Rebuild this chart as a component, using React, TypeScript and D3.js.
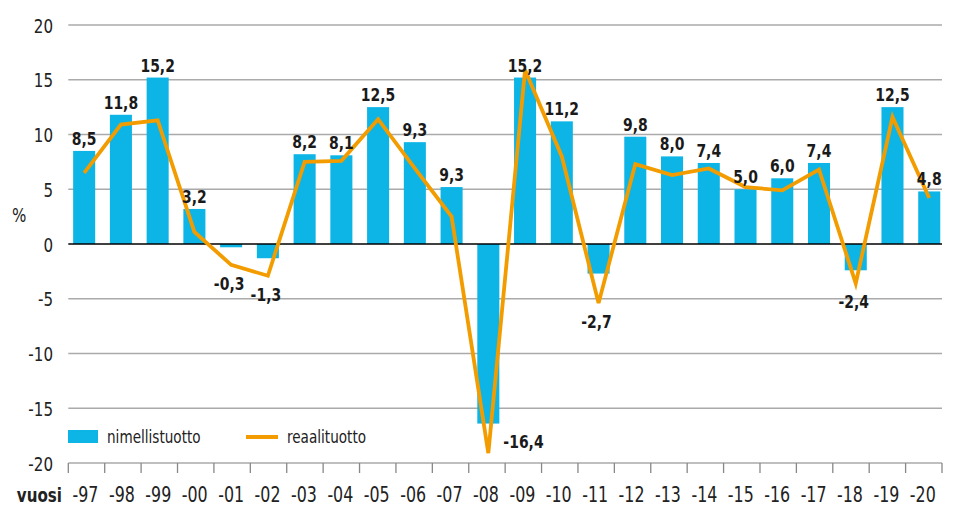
import React from "react";
import * as d3 from "d3";

const years = ["-97", "-98", "-99", "-00", "-01", "-02", "-03", "-04", "-05", "-06", "-07", "-08",
  "-09", "-10", "-11", "-12", "-13", "-14", "-15", "-16", "-17", "-18", "-19", "-20"];
const nimellistuotto = [8.5, 11.8, 15.2, 3.2, -0.3, -1.3, 8.2, 8.1, 12.5, 9.3, 5.2, -16.4,
  15.2, 11.2, -2.7, 9.8, 8.0, 7.4, 5.0, 6.0, 7.4, -2.4, 12.5, 4.8];
const reaalituotto = [6.5, 10.9, 11.3, 1.1, -1.9, -2.9, 7.5, 7.6, 11.4, 6.9, 2.5, -19.1,
  15.9, 8.0, -5.4, 7.3, 6.3, 6.9, 5.2, 4.9, 6.8, -3.6, 11.6, 4.2];
// labels as printed in the source (note -07 reads 9,3)
const valueLabels = ["8,5", "11,8", "15,2", "3,2", "-0,3", "-1,3", "8,2", "8,1", "12,5", "9,3", "9,3", "-16,4",
  "15,2", "11,2", "-2,7", "9,8", "8,0", "7,4", "5,0", "6,0", "7,4", "-2,4", "12,5", "4,8"];
const yTicks = [20, 15, 10, 5, 0, -5, -10, -15, -20];

const width = 956;
const height = 507;
const font = "'Liberation Sans Narrow', 'DejaVu Sans Condensed', 'Roboto', sans-serif";
const blue = "#0db5e6";
const orange = "#f39c00";
const squeeze = 0.84; // no condensed face installed, so narrow the glyphs a bit

// text squeezed horizontally around its anchor point
const T = ({x, y, anchor = "start", children, ...rest}: any) => (
  <text transform={`translate(${x},${y}) scale(${squeeze},1)`} textAnchor={anchor} {...rest}>{children}</text>
);

const App = () => {
  const y = d3.scaleLinear([-20, 20], [463, 25]);
  const xAxis = d3.scaleBand(years, [68.3, 942]);
  const x = d3.scaleBand(years, [65.8, 947.6]).paddingInner(0.4).paddingOuter(0.2);
  const cx = (d: string) => x(d)! + x.bandwidth() / 2;

  const line = d3.line<number>((d, i) => cx(years[i]), d => y(d));

  const tickXs = years.map(d => xAxis(d)!).concat([xAxis.range()[1]]);

  return (
    <svg width={width} height={height} style={{position: "absolute", left: 0, top: 0}} fontFamily={font}>
      {/* grid */}
      <g>
        {yTicks.filter(t => t !== 0).map(t => (
          <line key={t} x1={68.3} x2={942} y1={y(t)} y2={y(t)} stroke="#aaaaaa" strokeWidth={1.3}/>
        ))}
      </g>
      <g fill="#222" fontSize={20}>
        {yTicks.map(t => (
          <T key={t} x={53} y={y(t) + 7.5} anchor="end">{t}</T>
        ))}
      </g>
      <T x={12} y={222} fontSize={20} fill="#222">%</T>

      {/* x axis ticks */}
      <g stroke="#888" strokeWidth={1.3}>
        {tickXs.map((t, i) => (
          <line key={i} x1={t} x2={t} y1={y(-20)} y2={y(-20) + 10}/>
        ))}
      </g>
      <g fill="#222" fontSize={21}>
        {years.map(d => (
          <T key={d} x={xAxis(d)! + xAxis.bandwidth() / 2 - 1} y={502} anchor="middle">{d}</T>
        ))}
      </g>
      <T x={62} y={502} fontSize={20} fontWeight="bold" anchor="end" fill="#222">vuosi</T>

      {/* bars */}
      <g fill={blue}>
        {nimellistuotto.map((v, i) => (
          <rect key={i} x={x(years[i])} width={x.bandwidth()}
                y={y(Math.max(0, v))} height={Math.abs(y(v) - y(0))}/>
        ))}
      </g>
      <line x1={68.3} x2={942} y1={y(0)} y2={y(0)} stroke="#000" strokeWidth={1.6}/>

      {/* real return line */}
      <path d={line(reaalituotto)!} fill="none" stroke={orange} strokeWidth={3.8} strokeLinejoin="miter"/>

      {/* value labels */}
      <g fontSize={18.5} fontWeight="bold" fill="#1a1a1a">
        {nimellistuotto.map((v, i) => {
          const d = years[i];
          if (v >= 0) {
            return <T key={i} x={cx(d)} y={y(v) - 6} anchor="middle">{valueLabels[i]}</T>;
          }
          if (v < -10) {
            return <T key={i} x={x(d)! + x.bandwidth() + 4} y={y(v) + 24}>{valueLabels[i]}</T>;
          }
          return <T key={i} x={cx(d) - 2} y={y(Math.min(v, reaalituotto[i])) + 25} anchor="middle">{valueLabels[i]}</T>;
        })}
      </g>

      {/* legend */}
      <rect x={68} y={430} width={30} height={13} fill={blue}/>
      <T x={107} y={443} fontSize={18} fill="#222">nimellistuotto</T>
      <line x1={246} x2={278} y1={437} y2={437} stroke={orange} strokeWidth={4}/>
      <T x={287} y={443} fontSize={18} fill="#222">reaalituotto</T>
    </svg>
  );
};

export default App;
